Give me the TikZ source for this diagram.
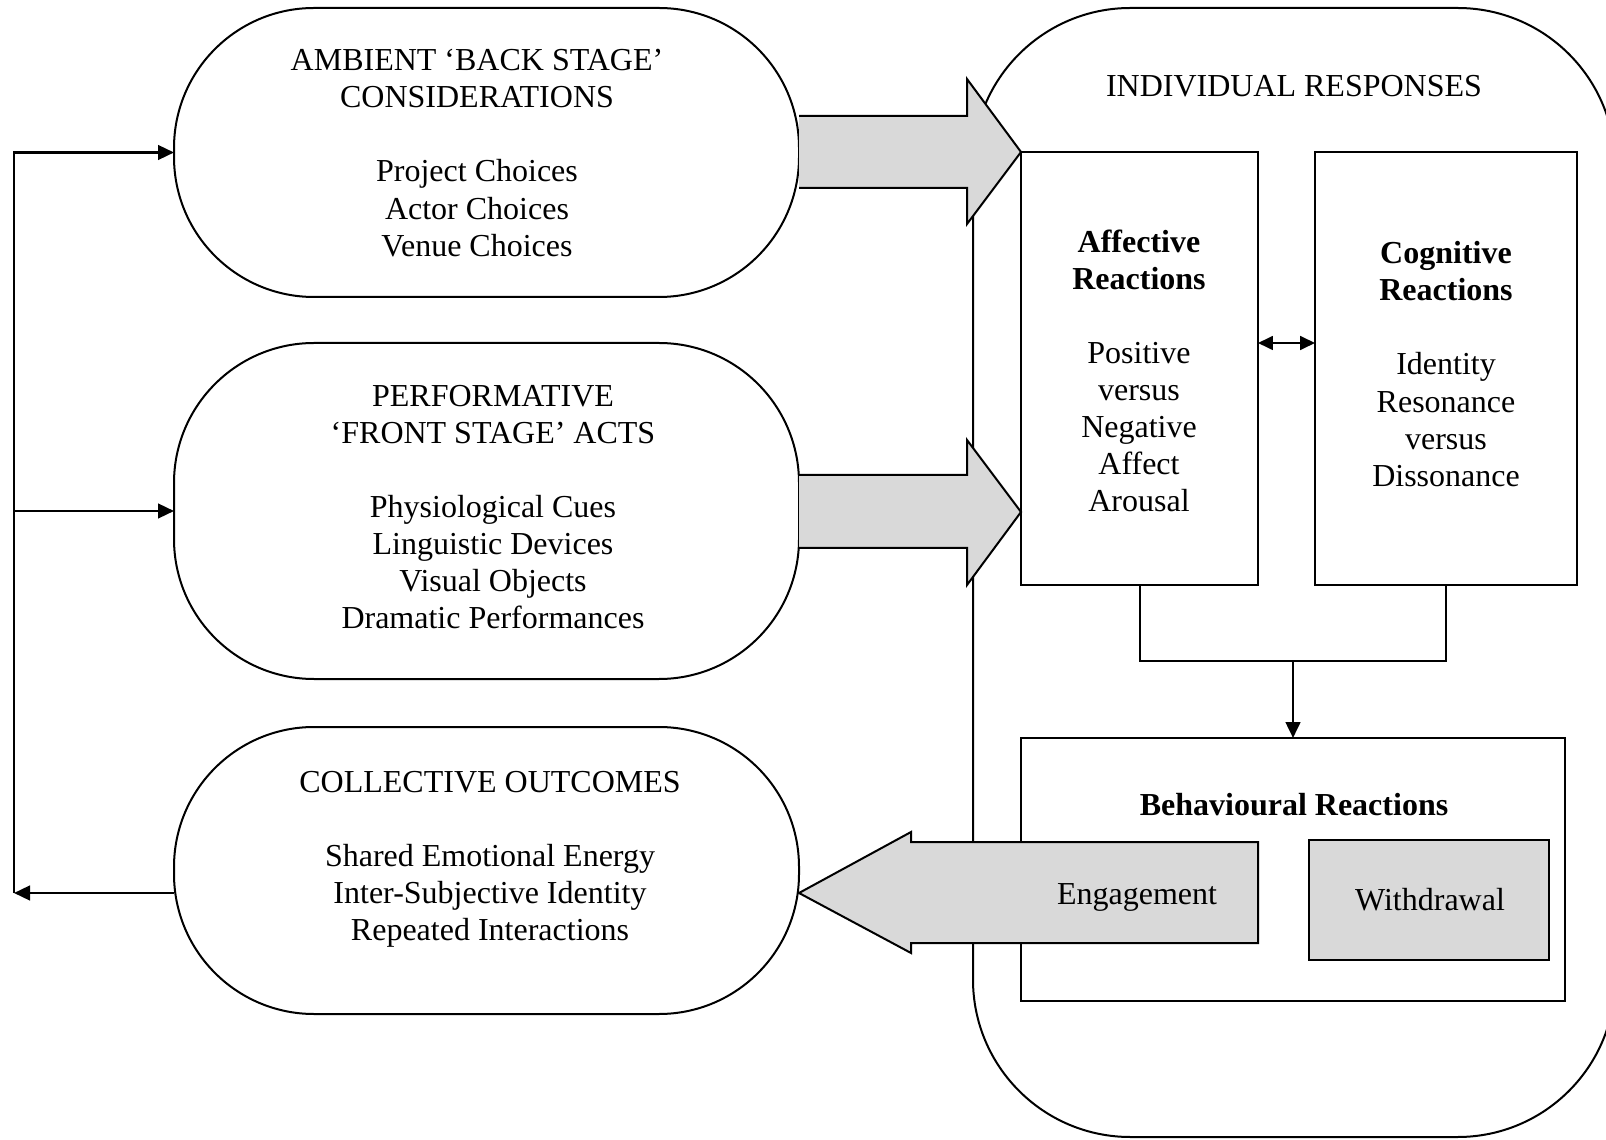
\documentclass[tikz,border=0pt]{standalone}
\usepackage{fontspec}
\setmainfont{Liberation Serif}
\usetikzlibrary{arrows.meta,fit}

\definecolor{arrowgray}{RGB}{217,217,217}

\tikzset{
  pill/.style={draw, line width=0.75pt, rounded corners=52.5pt, inner sep=0pt, outer sep=0pt, fill=white},
  panel/.style={draw, line width=0.75pt, rounded corners=59pt, inner sep=0pt, outer sep=0pt},
  reactbox/.style={draw, line width=0.75pt, inner sep=0pt, outer sep=0pt},
  txt/.style={align=center, font=\fontsize{12}{13.9}\selectfont},
  blockarrow/.style={draw, line width=0.75pt, fill=arrowgray, line join=miter},
  feed/.style={line width=0.9pt, -{Triangle[length=6pt,width=5.5pt]}},
}

\begin{document}
\begin{tikzpicture}[x=0.375pt, y=-0.375pt]
      \useasboundingbox (0,0) rectangle (1606,1140);
      \clip (0,0) rectangle (1606,1140);

      % right hand panel
      \node[panel, fit={(973,8) (1615,1137)}] (responses) {};
      \node[txt] (responsestitle) at (1294,86) {INDIVIDUAL RESPONSES};

      \node[reactbox, fit={(1021,152) (1258,585)}] (affective) {};
      \node[txt] (affectivetext) at (1139,371)
        {\textbf{Affective}\\\textbf{Reactions}\\[13.9pt]Positive\\versus\\Negative\\Affect\\Arousal};
      \node[reactbox, fit={(1315,152) (1577,585)}] (cognitive) {};
      \node[txt] (cognitivetext) at (1446,364)
        {\textbf{Cognitive}\\\textbf{Reactions}\\[13.9pt]Identity\\Resonance\\versus\\Dissonance};

      \node[reactbox, fit={(1021,738) (1565,1001)}] (behaviour) {};
      \node[txt] (behaviourtitle) at (1294,805) {\textbf{Behavioural Reactions}};
      \node[reactbox, fill=arrowgray, fit={(1309,840) (1549,960)}] (withdrawal) {};
      \node[txt] (withdrawaltext) at (1430,900) {Withdrawal};

      \coordinate (join) at (1293,661);
      \draw[line width=0.75pt] (affective.south) |- (join) -| (cognitive.south);
      \draw[feed, line width=1pt] (join) -- (behaviour.north);
      \draw[line width=0.75pt, {Triangle[length=5.6pt,width=5.2pt]}-{Triangle[length=5.6pt,width=5.2pt]}]
        (affective.east |- 0,343) -- (cognitive.west |- 0,343);

      % left hand stages
      \node[pill, fit={(174,8) (799,297)}] (ambient) {};
      \node[txt] (ambienttext) at (477,153)
        {AMBIENT ‘BACK STAGE’\\CONSIDERATIONS\\[13.9pt]Project Choices\\Actor Choices\\Venue Choices};

      \node[pill, fit={(174,343) (799,679)}] (performative) {};
      \node[txt] (performativetext) at (493,507)
        {PERFORMATIVE\\‘FRONT STAGE’ ACTS\\[13.9pt]Physiological Cues\\Linguistic Devices\\Visual Objects\\Dramatic Performances};

      \node[pill, fit={(174,727) (799,1014)}] (collective) {};
      \node[txt] (collectivetext) at (490,859)
        {COLLECTIVE OUTCOMES\\[13.9pt]Shared Emotional Energy\\Inter-Subjective Identity\\Repeated Interactions};

      % block arrows
      \draw[blockarrow] (ambient.east |- 0,116) -- (967,116) -- (967,79) -- (affective.north west)
        -- (967,224) -- (967,188) -- (ambient.east |- 0,188);
      \draw[blockarrow] (performative.east |- 0,475) -- (967,475) -- (967,440) -- (affective.west |- 0,512)
        -- (967,585) -- (967,548) -- (performative.east |- 0,548);
      \draw[blockarrow] (collective.east |- 0,893) -- (911,832) -- (911,842) -- (affective.east |- 0,842)
        -- (affective.east |- 0,943) -- (911,943) -- (911,953) -- cycle;
      \node[txt] (engagement) at (1137,897) {Engagement};

      % feedback loop
      \coordinate (loopbottom) at (14,893);
      \draw[feed] (collective.west |- loopbottom) -- (loopbottom);
      \draw[feed] (loopbottom) |- (ambient.west);
      \draw[feed] (loopbottom |- performative.west) -- (performative.west);
\end{tikzpicture}
\end{document}
